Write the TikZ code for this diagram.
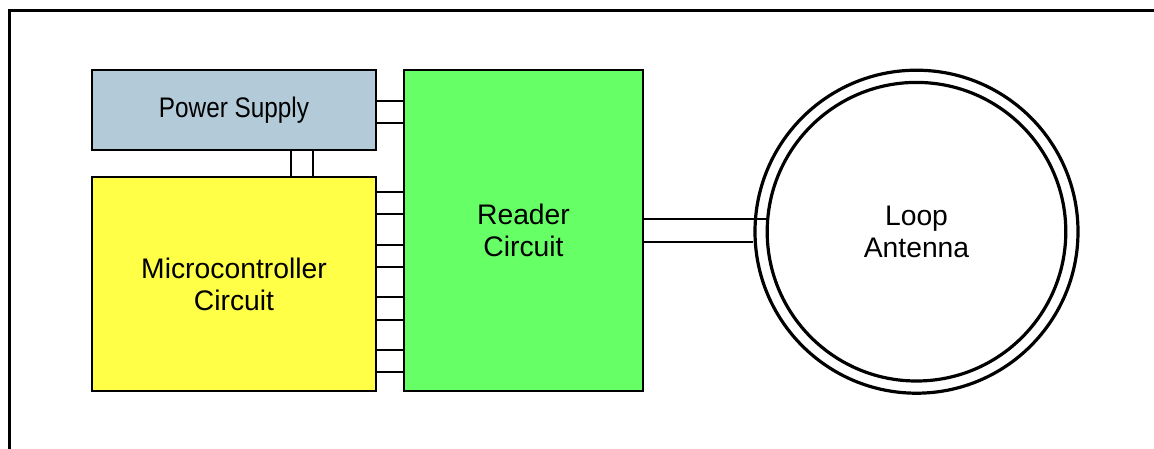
\documentclass[tikz,border=0pt]{standalone}
\usepackage{fontspec}
\setmainfont{Liberation Sans}
\newfontfamily\narrowsf[FakeStretch=0.86]{Liberation Sans}
\definecolor{psblue}{RGB}{179,203,216}
\definecolor{mcyellow}{RGB}{255,255,72}
\definecolor{rdgreen}{RGB}{102,255,102}
\begin{document}
\begin{tikzpicture}[x=1pt, y=-1pt,
  every node/.style = {align=center, inner sep=0pt,
    font=\fontsize{28.3}{32}\selectfont},
  block/.style = {shape=rectangle, draw, line width=2.4pt},
  ring/.style = {shape=circle, draw, line width=3.2pt},
  wire/.style = {line width=2pt}]
  \useasboundingbox (0,0) rectangle (1154,448);
  \begin{scope}
    \clip (0,0) rectangle (1154,448);
    \draw[line width=3pt] (9,10) rectangle (1180,480);
  \end{scope}
  \node[block, fill=psblue, minimum width=284pt, minimum height=80pt,
    font=\fontsize{28.3}{32}\narrowsf] (ps) at (234,110) {Power Supply};
  \node[block, fill=mcyellow, minimum width=284pt, minimum height=214pt] (mc) at (234,284) {Microcontroller\\Circuit};
  \node[block, fill=rdgreen, minimum width=239pt, minimum height=321pt] (reader) at (523.5,230.5) {Reader\\Circuit};
  \node[ring, minimum size=323pt] (antouter) at (916.5,231.7) {};
  \node[ring, minimum size=298.6pt] (ant) at (916.5,231.7) {Loop\\Antenna};
  \foreach \y in {101,123}
    \draw[wire] (ps.east |- 0,\y) -- (reader.west |- 0,\y);
  \foreach \x in {291,313}
    \draw[wire] (ps.south -| \x,0) -- (mc.north -| \x,0);
  \foreach \y in {192,214,245,267,297,320,350,372}
    \draw[wire] (mc.east |- 0,\y) -- (reader.west |- 0,\y);
  \draw[wire] (reader.east |- 0,219) -- (ant.west |- 0,219);
  \draw[wire] (reader.east |- 0,242) -- (antouter.west |- 0,242);
\end{tikzpicture}
\end{document}
